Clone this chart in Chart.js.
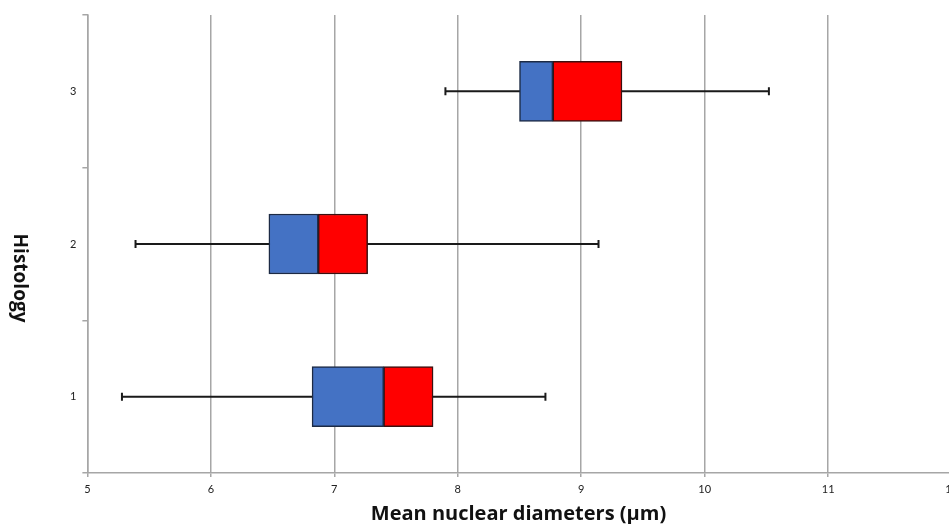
<!DOCTYPE html>
<html>
<head>
<meta charset="utf-8">
<script src="https://cdn.jsdelivr.net/npm/chart.js@4"></script>
<style>
  html, body { margin: 0; padding: 0; background: #fff; overflow: hidden; }
  #wrap { width: 965px; height: 524px; position: relative; }
</style>
</head>
<body>
<div id="wrap"><canvas id="boxChart"></canvas></div>
<script>
const categories = ['1', '2', '3'];
const whiskerLow = [5.28, 5.39, 7.90];
const q1 = [6.82, 6.47, 8.50];
const median = [7.40, 6.87, 8.77];
const q3 = [7.80, 7.27, 9.33];
const whiskerHigh = [8.71, 9.14, 10.52];

const gridGray = '#a6a6a6';
const xTitle = 'Mean nuclear diameters (µm)';
const yTitle = 'Histology';

// whisker lines + end caps, drawn under the boxes
const whiskers = {
  id: 'whiskers',
  beforeDatasetsDraw(chart) {
    const { ctx, scales: { x, y } } = chart;
    ctx.save();
    ctx.strokeStyle = '#1a1a1a';
    ctx.lineWidth = 2;
    categories.forEach((c, i) => {
      const yp = y.getPixelForValue(i);
      const xl = x.getPixelForValue(whiskerLow[i]);
      const xh = x.getPixelForValue(whiskerHigh[i]);
      ctx.beginPath();
      ctx.moveTo(xl, yp); ctx.lineTo(xh, yp);
      ctx.moveTo(xl, yp - 4); ctx.lineTo(xl, yp + 4);
      ctx.moveTo(xh, yp - 4); ctx.lineTo(xh, yp + 4);
      ctx.stroke();
    });
    ctx.restore();
  }
};

// axis titles drawn by hand: the y one reads top-to-bottom in the original
const axisTitles = {
  id: 'axisTitles',
  afterDraw(chart) {
    const { ctx, chartArea } = chart;
    ctx.save();
    ctx.fillStyle = '#111';
    ctx.textAlign = 'center';
    ctx.textBaseline = 'middle';
    ctx.font = 'bold 20px "Open Sans"';
    ctx.fillText(xTitle, (chartArea.left + chartArea.right) / 2 - 1, chartArea.bottom + 41);
    ctx.translate(19, (chartArea.top + chartArea.bottom) / 2 + 34);
    ctx.rotate(Math.PI / 2);
    ctx.font = 'bold 19px "Open Sans"';
    ctx.fillText(yTitle, 0, 0);
    ctx.restore();
  }
};

new Chart(document.getElementById('boxChart'), {
  type: 'bar',
  data: {
    labels: categories,
    datasets: [
      {
        label: 'Q1-Median',
        data: categories.map((c, i) => [q1[i], median[i]]),
        backgroundColor: '#4472c4',
        borderColor: '#1c2a44',
        borderWidth: 1.5,
        borderSkipped: false,
        barThickness: 60,
        grouped: false
      },
      {
        label: 'Median-Q3',
        data: categories.map((c, i) => [median[i], q3[i]]),
        backgroundColor: '#ff0000',
        borderColor: '#3a1010',
        borderWidth: 1.5,
        borderSkipped: false,
        barThickness: 60,
        grouped: false
      }
    ]
  },
  options: {
    indexAxis: 'y',
    responsive: true,
    maintainAspectRatio: false,
    animation: false,
    layout: { padding: { top: 15, right: 0, left: 64, bottom: 22 } },
    plugins: {
      legend: { display: false },
      tooltip: { enabled: false }
    },
    scales: {
      x: {
        type: 'linear',
        min: 5,
        max: 12,
        ticks: {
          stepSize: 1,
          color: '#222',
          font: { family: 'Lato', size: 11, lineHeight: 1 },
          padding: 7
        },
        grid: { color: gridGray, lineWidth: 1.5, tickLength: 4 },
        border: { color: gridGray, width: 1.5 }
      },
      y: {
        reverse: true,
        offset: true,
        ticks: {
          color: '#222',
          font: { family: 'Lato', size: 11 },
          padding: 6
        },
        grid: { offset: true, drawOnChartArea: false, color: gridGray, lineWidth: 1.5, tickLength: 5 },
        border: { color: gridGray, width: 1.5 }
      }
    }
  },
  plugins: [whiskers, axisTitles]
});
</script>
</body>
</html>
